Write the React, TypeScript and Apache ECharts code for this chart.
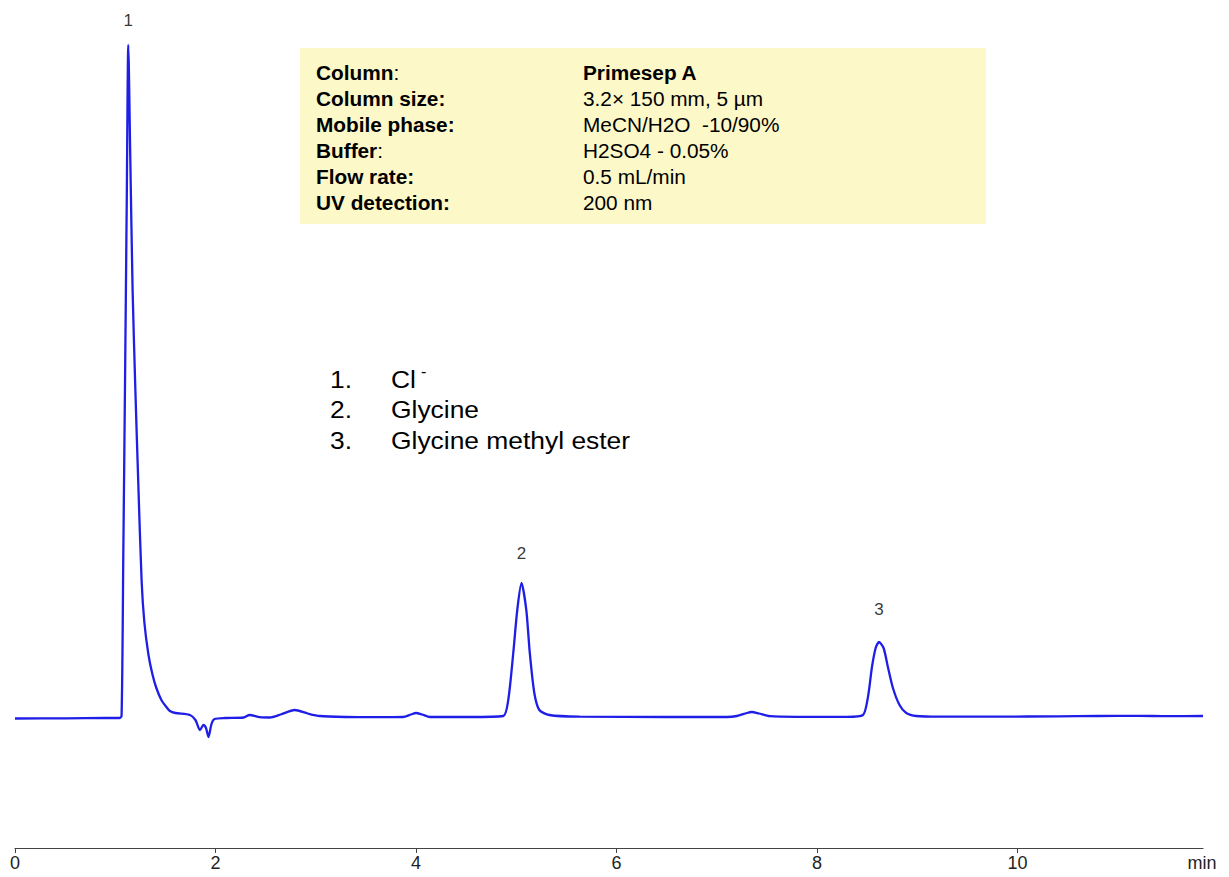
import React, { useEffect, useRef } from "react";
import * as echarts from "echarts";

// Retention time (min) and detector signal (arbitrary units, baseline = 0)
const times = [
  0.0, 0.5, 0.9, 1.04, 1.063, 1.08, 1.097, 1.115, 1.13, 1.15, 1.173, 1.2, 1.23, 1.263, 1.29, 1.33, 1.37,
  1.41, 1.46, 1.51, 1.545, 1.6, 1.745, 1.8, 1.845, 1.88, 1.905, 1.93, 1.96, 1.99, 2.1, 2.28, 2.34, 2.44,
  2.54, 2.65, 2.79, 2.92, 3.04, 3.3, 3.6, 3.87, 3.95, 4.0, 4.06, 4.14, 4.54, 4.87, 4.92, 4.97, 5.01, 5.052,
  5.1, 5.135, 5.18, 5.23, 5.33, 5.63, 6.5, 7.1, 7.2, 7.3, 7.35, 7.42, 7.53, 7.8, 8.3, 8.458, 8.508, 8.548,
  8.585, 8.618, 8.664, 8.707, 8.757, 8.823, 8.89, 8.99, 9.22, 9.8, 10.4, 10.8, 11.2, 11.5, 11.85,
];
const signal = [
  -0.5, -0.3, 0, 0, 2, 160, 331, 520, 673, 560, 428, 330, 234, 137, 96, 64, 44,
  30, 18, 11, 7, 5, 3, -2, -12, -7, -10, -19, -6, -1, 0, 0.5, 3, 0.8,
  0.5, 3.5, 8, 4.5, 2, 1, 0.8, 1, 3.5, 5, 3.5, 1, 1, 2, 18, 65, 108, 135,
  108, 65, 25, 8, 3, 1.3, 1, 1, 2, 5, 6, 4.5, 1.8, 1.2, 1.2, 3, 21, 51,
  70, 76, 70, 51, 30, 13, 5, 2, 1.3, 1.4, 1.6, 2, 2.2, 1.8, 2,
];

const peakTimes = [1.13, 5.052, 8.618];
const peakHeights = [673, 135, 76];
const peakNames = ["1", "2", "3"];

const xTicks = [0, 2, 4, 6, 8, 10];
const xMax = 11.85;
const xUnit = "min";

const conditionLabels = ["Column", "Column size:", "Mobile phase:", "Buffer", "Flow rate:", "UV detection:"];
const conditionColon = [":", "", "", ":", "", ""];
const conditionValues = ["Primesep A", "3.2× 150 mm, 5 µm", "MeCN/H2O  -10/90%", "H2SO4 - 0.05%", "0.5 mL/min", "200 nm"];

const compoundNumbers = ["1.", "2.", "3."];
const compoundNames = ["Cl", "Glycine", "Glycine methyl ester"];

const FONT = "'Liberation Sans', Arial, Helvetica, sans-serif";

export default function App() {
  const ref = useRef<HTMLDivElement>(null);

  useEffect(() => {
    if (!ref.current) return;
    const chart = echarts.init(ref.current, null, { renderer: "svg" });

    const lineData = times.map((t, i) => [t, signal[i]]);
    const labelDistances = [16, 21, 24];
    const peakData = peakTimes.map((t, i) => ({
      value: [t, peakHeights[i]],
      label: { distance: labelDistances[i] },
    }));

    const graphics: any[] = [];
    graphics.push({
      type: "rect",
      shape: { x: 300, y: 48, width: 686, height: 176 },
      style: { fill: "#fcf8c8" },
      z: 0,
    });
    const rowY0 = 73;
    const rowStep = 26;
    const infoSize = 20;
    conditionLabels.forEach((lab, i) => {
      graphics.push({
        type: "text",
        x: 316,
        y: rowY0 + i * rowStep,
        scaleX: 1.04,
        style: {
          text: `{b|${lab}}{n|${conditionColon[i]}}`,
          rich: {
            b: { fontFamily: FONT, fontSize: infoSize, fontWeight: "bold", fill: "#000" },
            n: { fontFamily: FONT, fontSize: infoSize, fill: "#000" },
          },
          verticalAlign: "middle",
        },
        z: 10,
      });
      graphics.push({
        type: "text",
        x: 583,
        y: rowY0 + i * rowStep,
        scaleX: 1.04,
        style: {
          text: conditionValues[i],
          fontFamily: FONT,
          fontSize: infoSize,
          fontWeight: i === 0 ? "bold" : "normal",
          fill: "#000",
          verticalAlign: "middle",
        },
        z: 10,
      });
    });

    const legY0 = 379;
    const legStep = 30.5;
    const legSize = 24;
    compoundNumbers.forEach((num, i) => {
      graphics.push({
        type: "text",
        x: 330,
        y: legY0 + i * legStep,
        scaleX: 1.1,
        style: { text: num, fontFamily: FONT, fontSize: legSize, fill: "#000", verticalAlign: "middle" },
      });
      graphics.push({
        type: "text",
        x: 391,
        y: legY0 + i * legStep,
        scaleX: 1.1,
        style: { text: compoundNames[i], fontFamily: FONT, fontSize: legSize, fill: "#000", verticalAlign: "middle" },
      });
    });
    graphics.push({
      type: "text",
      x: 421,
      y: 371,
      style: { text: "-", fontFamily: FONT, fontSize: 16, fill: "#000", verticalAlign: "middle" },
    });
    graphics.push({
      type: "text",
      x: 1202,
      y: 863,
      style: { text: xUnit, fontFamily: FONT, fontSize: 18, fill: "#222", align: "center", verticalAlign: "middle" },
    });

    chart.setOption({
      animation: false,
      grid: { left: 15, right: 26, top: 18, bottom: 29, containLabel: false },
      xAxis: {
        type: "value",
        min: 0,
        max: xMax,
        interval: 2,
        axisLine: { onZero: false, lineStyle: { color: "#444", width: 1.2 } },
        axisTick: { show: true, length: 5, lineStyle: { color: "#444" } },
        axisLabel: {
          showMaxLabel: false,
          margin: 6,
          fontFamily: FONT,
          fontSize: 18,
          color: "#222",
          formatter: (v: number) => (xTicks.includes(v) ? String(v) : ""),
        },
        splitLine: { show: false },
      },
      yAxis: { type: "value", min: -130, max: 700, show: false },
      series: [
        {
          type: "line",
          data: lineData,
          showSymbol: false,
          smooth: 0.25,
          lineStyle: { color: "#1e1ee6", width: 2.3 },
          z: 5,
        },
        {
          type: "scatter",
          data: peakData,
          symbolSize: 1,
          itemStyle: { color: "rgba(0,0,0,0)" },
          label: {
            show: true,
            position: "top",
            fontFamily: FONT,
            fontSize: 17,
            color: "#000",
            formatter: (p: any) => peakNames[p.dataIndex],
          },
          z: 6,
        },
      ],
      graphic: graphics,
    });

    return () => chart.dispose();
  }, []);

  return <div ref={ref} style={{ position: "fixed", left: 0, top: 0, width: 1229, height: 877, background: "#fff" }} />;
}
